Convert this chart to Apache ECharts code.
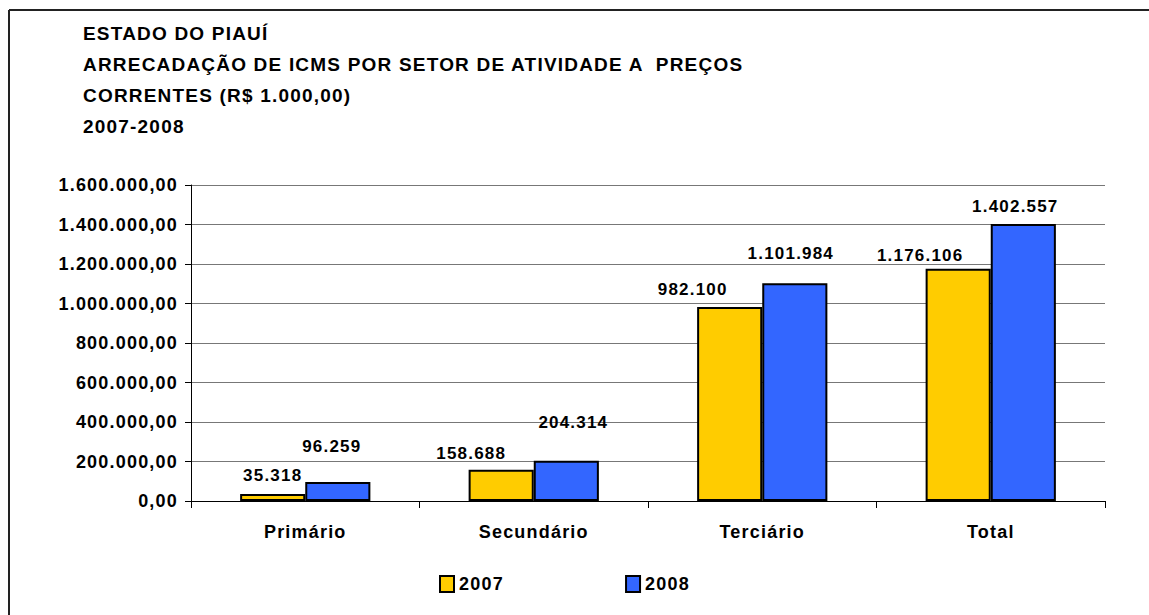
<!DOCTYPE html>
<html>
<head>
<meta charset="utf-8">
<title>ICMS Piauí 2007-2008</title>
<script src="https://cdn.jsdelivr.net/npm/echarts@6/dist/echarts.min.js"></script>
<style>
	html, body { margin: 0; padding: 0; background: #fff; }
	#chart { width: 1149px; height: 615px; }
	/* o Excel original usa um espaçamento largo entre letras */
	#chart text { letter-spacing: 1.2px; }
</style>
</head>
<body>
<div id="chart"></div>
<script>
// categorias e valores (R$ 1.000,00)
var setores = ['Primário', 'Secundário', 'Terciário', 'Total'];
var anos = ['2007', '2008'];
var valores2007 = [35318, 158688, 982100, 1176106];
var valores2008 = [96259, 204314, 1101984, 1402557];
var eixoY = [0, 200000, 400000, 600000, 800000, 1000000, 1200000, 1400000, 1600000];

// deslocamento dos rótulos (estilo, como no original do Excel)
var desloc2007 = [[0, -5], [-30, -3], [-37, -4], [-38, 0]];
var desloc2008 = [[-6, -22], [7, -25], [-4, -16], [-8, -4]];

var fonte = '"Liberation Sans", Arial, sans-serif';

//formata número no padrão brasileiro
function milhar(v) {
	return String(Math.round(v)).replace(/\B(?=(\d{3})+(?!\d))/g, '.');
}

function montaSerie(nome, valores, desloc, cor) {
	return {
		name: nome,
		type: 'bar',
		barGap: '0%',
		barCategoryGap: '43%',
		itemStyle: { color: cor, borderColor: '#000', borderWidth: 2 },
		data: valores.map(function (v, i) {
			return { value: v, label: { offset: desloc[i] } };
		}),
		label: {
			show: true,
			position: 'top',
			distance: 5,
			color: '#000',
			fontFamily: fonte,
			fontSize: 17,
			fontWeight: 'bold',
			formatter: function (p) { return milhar(p.value); }
		}
	};
}

var myChart = echarts.init(document.getElementById('chart'), null, { renderer: 'svg' });
myChart.setOption({
	animation: false,
	backgroundColor: '#fff',
	textStyle: { fontFamily: fonte },
	title: {
		text: 'ESTADO DO PIAUÍ\nARRECADAÇÃO DE ICMS POR SETOR DE ATIVIDADE A  PREÇOS\nCORRENTES (R$ 1.000,00)\n2007-2008',
		left: 83,
		top: 18,
		padding: 0,
		textStyle: {
			fontFamily: fonte,
			fontSize: 19,
			fontWeight: 'bold',
			color: '#000',
			lineHeight: 31
		}
	},
	legend: {
		data: anos,
		left: 439,
		top: 575,
		padding: 0,
		icon: 'rect',
		itemWidth: 14,
		itemHeight: 16,
		itemGap: 126,
		itemStyle: { borderColor: '#000', borderWidth: 2 },
		textStyle: { fontFamily: fonte, fontSize: 18, fontWeight: 'bold', color: '#000' }
	},
	grid: { left: 191, right: 44, top: 185, bottom: 114 },
	xAxis: {
		type: 'category',
		data: setores,
		axisLine: { lineStyle: { color: '#000', width: 1 } },
		axisTick: { show: true, length: 7, lineStyle: { color: '#000' } },
		axisLabel: { fontFamily: fonte, fontSize: 18, fontWeight: 'bold', color: '#000', margin: 22 }
	},
	yAxis: {
		type: 'value',
		min: eixoY[0],
		max: eixoY[eixoY.length - 1],
		interval: eixoY[1] - eixoY[0],
		axisLine: { show: true, lineStyle: { color: '#000', width: 1 } },
		axisTick: { show: true, length: 6, lineStyle: { color: '#000' } },
		splitLine: { show: true, lineStyle: { color: '#777', width: 1 } },
		axisLabel: {
			fontFamily: fonte, fontSize: 18, fontWeight: 'bold', color: '#000', margin: 13,
			formatter: function (v) { return milhar(v) + ',00'; }
		}
	},
	graphic: [
		{ type: 'line', shape: { x1: 9, y1: 10, x2: 1149, y2: 10 }, style: { stroke: '#222', lineWidth: 2 } },
		{ type: 'line', shape: { x1: 9, y1: 10, x2: 9, y2: 615 }, style: { stroke: '#222', lineWidth: 2 } }
	],
	series: [
		montaSerie(anos[0], valores2007, desloc2007, '#FFCC00'),
		montaSerie(anos[1], valores2008, desloc2008, '#3366FF')
	]
});
</script>
</body>
</html>
